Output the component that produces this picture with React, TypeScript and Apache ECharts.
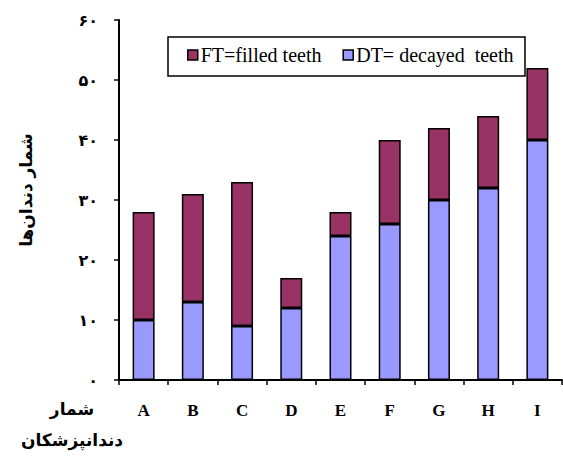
import React, { useEffect, useRef } from "react";
import * as echarts from "echarts";

const categories = ["A", "B", "C", "D", "E", "F", "G", "H", "I"];
const decayed = [10, 13, 9, 12, 24, 26, 30, 32, 40];
const filled = [18, 18, 24, 5, 4, 14, 12, 12, 12];
const yTicks = [0, 10, 20, 30, 40, 50, 60];
const legendFT = "FT=filled teeth";
const legendDT = "DT= decayed  teeth";
const yName = "شمار دندان‌ها";
const xNameLines = ["شمار", "دندانپزشکان"];

const toPersian = (v: number) =>
  String(v).replace(/[0-9]/g, (d) => "۰۱۲۳۴۵۶۷۸۹"[Number(d)]);

const persianFont = "DejaVu Sans";
const serifFont = "Liberation Serif";

export default function App() {
  const ref = useRef<HTMLDivElement>(null);
  useEffect(() => {
    if (!ref.current) return;
    const chart = echarts.init(ref.current, null, { renderer: "svg" });
    chart.setOption({
      animation: false,
      backgroundColor: "#ffffff",
      grid: { left: 119, right: 1, top: 20, bottom: 77, containLabel: false },
      legend: {
        data: [legendFT, legendDT],
        left: 187,
        top: 45,
        padding: 0,
        itemWidth: 10,
        itemHeight: 10,
        itemGap: 21,
        icon: "rect",
        itemStyle: { borderColor: "#000", borderWidth: 1.5 },
        textStyle: { fontFamily: serifFont, fontSize: 20, color: "#000", padding: [0, 0, 0, -2] },
      },
      xAxis: {
        type: "category",
        data: categories,
        axisLine: { lineStyle: { color: "#000", width: 2 } },
        axisTick: { show: true, length: 5, lineStyle: { color: "#000", width: 1.5 } },
        axisLabel: {
          margin: 22,
          fontFamily: serifFont,
          fontWeight: "bold",
          fontSize: 17,
          color: "#000",
        },
      },
      yAxis: {
        type: "value",
        min: 0,
        max: 60,
        interval: 10,
        splitLine: { show: false },
        axisLine: { show: true, lineStyle: { color: "#000", width: 2 } },
        axisTick: { show: true, length: 5, lineStyle: { color: "#000", width: 1.5 } },
        axisLabel: {
          margin: 21,
          fontFamily: persianFont,
          fontWeight: "bold",
          fontSize: 16,
          color: "#000",
          formatter: (v: number) => (yTicks.includes(v) ? toPersian(v) : ""),
        },
      },
      series: [
        {
          name: legendDT,
          type: "bar",
          stack: "total",
          barWidth: 22,
          data: decayed,
          itemStyle: { color: "#9999FF", borderColor: "#000", borderWidth: 1.5 },
        },
        {
          name: legendFT,
          type: "bar",
          stack: "total",
          barWidth: 22,
          data: filled,
          itemStyle: { color: "#993366", borderColor: "#000", borderWidth: 1.5 },
        },
      ],
      graphic: [
        {
          type: "rect",
          shape: { x: 168, y: 37, width: 357, height: 39 },
          style: { fill: "none", stroke: "#000", lineWidth: 1.5 },
          z: 10,
        },
        {
          type: "text",
          x: 26,
          y: 190,
          rotation: Math.PI / 2,
          style: {
            text: yName,
            fontFamily: persianFont,
            fontWeight: "bold",
            fontSize: 17,
            fill: "#000",
            align: "center",
            verticalAlign: "middle",
          },
        },
        {
          type: "text",
          x: 72,
          y: 409,
          style: {
            text: xNameLines[0],
            fontFamily: persianFont,
            fontWeight: "bold",
            fontSize: 17,
            fill: "#000",
            align: "center",
            verticalAlign: "middle",
          },
        },
        {
          type: "text",
          x: 72,
          y: 440,
          style: {
            text: xNameLines[1],
            fontFamily: persianFont,
            fontWeight: "bold",
            fontSize: 17,
            fill: "#000",
            align: "center",
            verticalAlign: "middle",
          },
        },
      ],
    });
    return () => chart.dispose();
  }, []);
  return (
    <div
      ref={ref}
      style={{ position: "absolute", left: 0, top: 0, width: 563, height: 457 }}
    />
  );
}
